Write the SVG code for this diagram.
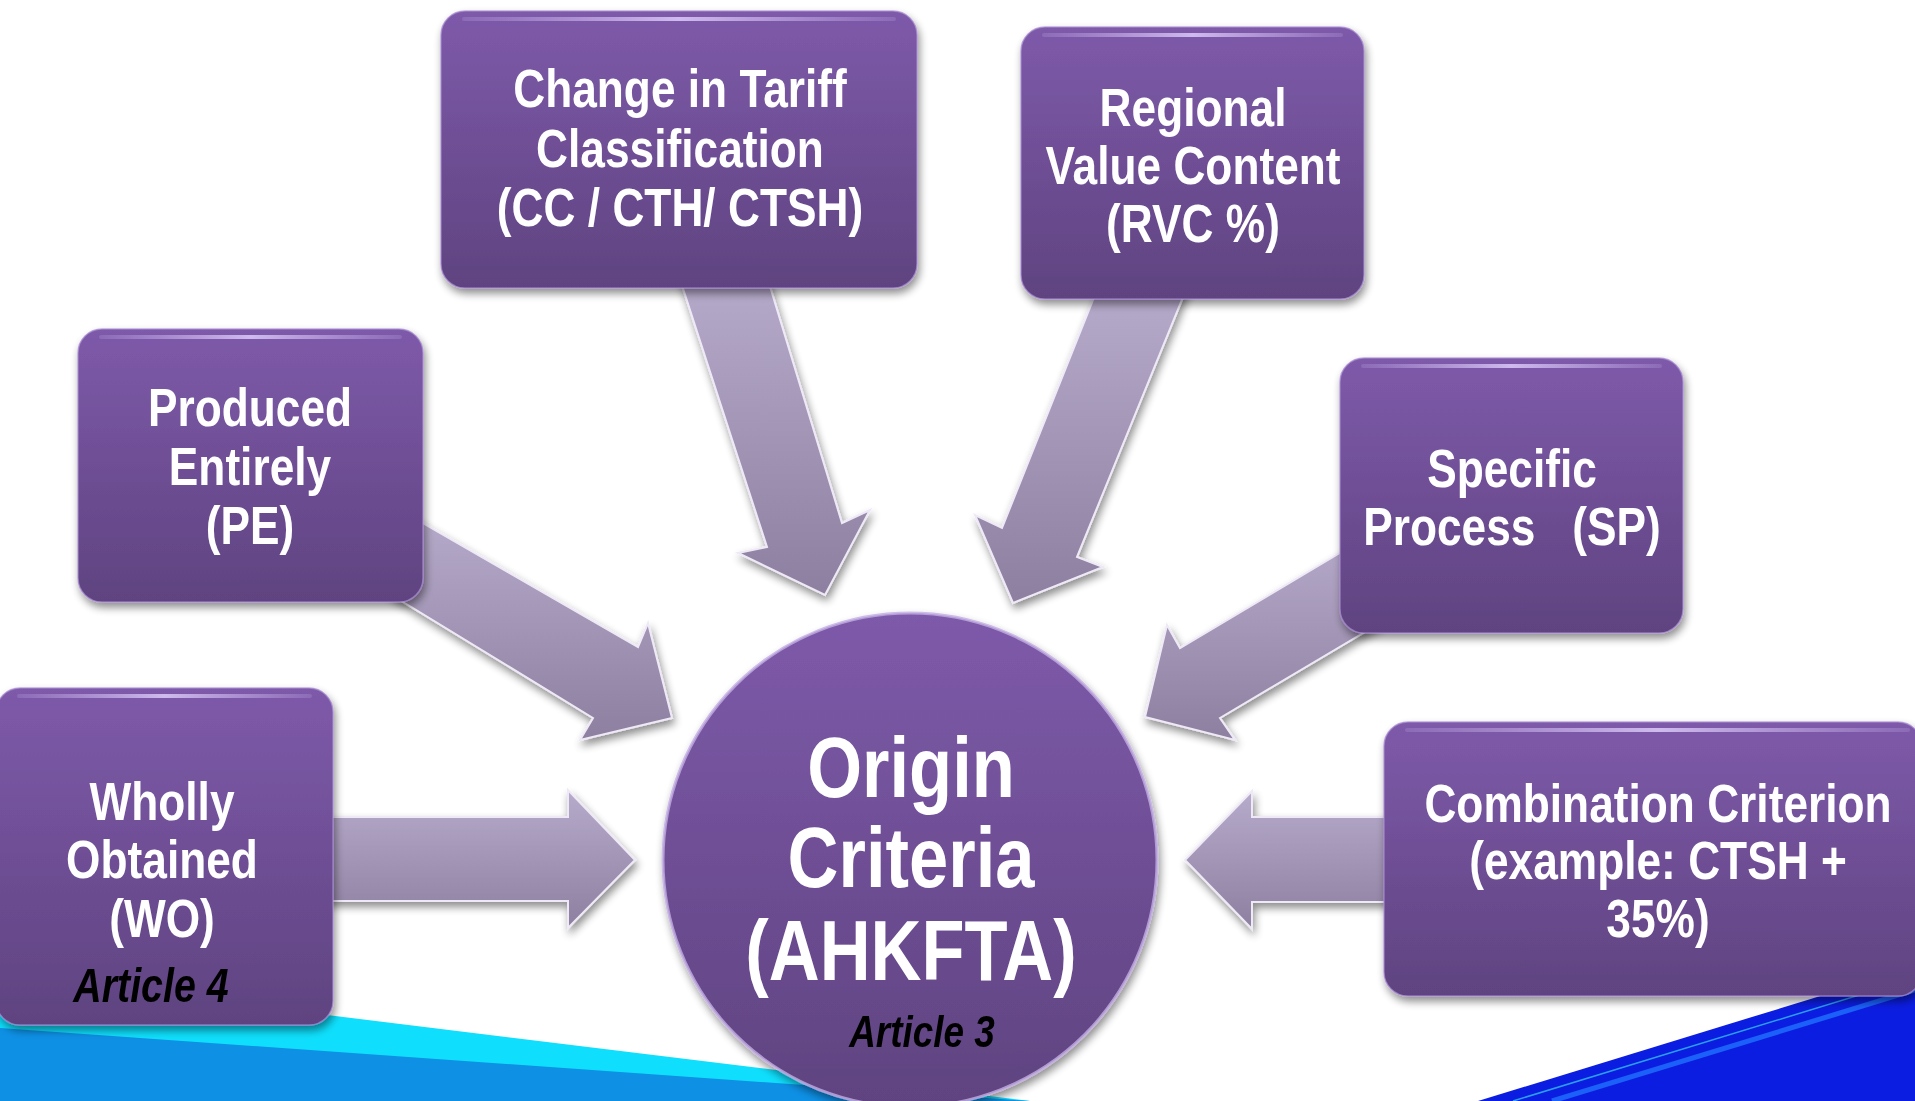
<svg xmlns="http://www.w3.org/2000/svg" width="1915" height="1101" viewBox="0 0 1915 1101">
<defs>
<linearGradient id="gBox" x1="0" y1="0" x2="0" y2="1">
<stop offset="0" stop-color="#7e5aaa"/>
<stop offset="1" stop-color="#5f4380"/>
</linearGradient>
<linearGradient id="gArrow" x1="0" y1="0" x2="0" y2="1">
<stop offset="0" stop-color="#b7abcb"/>
<stop offset="1" stop-color="#8d7f9f"/>
</linearGradient>
<linearGradient id="gHi" x1="0" y1="0" x2="1" y2="0">
<stop offset="0" stop-color="#c9b2ee" stop-opacity="0.2"/>
<stop offset="0.5" stop-color="#d8c6f5" stop-opacity="0.9"/>
<stop offset="1" stop-color="#c9b2ee" stop-opacity="0.2"/>
</linearGradient>
<filter id="shadow" x="-10%" y="-10%" width="125%" height="130%">
<feGaussianBlur in="SourceAlpha" stdDeviation="4"/>
<feOffset dx="2" dy="5" result="b"/>
<feComponentTransfer><feFuncA type="linear" slope="0.45"/></feComponentTransfer>
<feMerge><feMergeNode/><feMergeNode in="SourceGraphic"/></feMerge>
</filter>
</defs>
<style>
.box{fill:url(#gBox);stroke:#a98bd3;stroke-width:1.5;stroke-opacity:0.7}
.hi{fill:url(#gHi)}
.arrow{fill:url(#gArrow);stroke:#efe9f7;stroke-width:2;stroke-linejoin:miter}
.lbl{font-family:"Liberation Sans",Arial,sans-serif;font-weight:bold;fill:#ffffff;text-anchor:middle;font-size:54px;white-space:pre}
.big{font-size:86px}
.art{font-family:"Liberation Sans",Arial,sans-serif;font-weight:bold;font-style:italic;fill:#000000;text-anchor:middle}
</style>
<rect x="0" y="0" width="1915" height="1101" fill="#ffffff"/>
<g id="background">
<polygon points="0,975 1030,1101 0,1101" fill="#0fdffc"/>
<polygon points="0,1028 1030,1101 0,1101" fill="#0e90e5"/>
<polygon points="1478,1101 1915,967 1915,1101" fill="#0c1de2"/>
<line x1="1513" y1="1101" x2="1915" y2="978" stroke="#2aa0f0" stroke-width="1.5"/>
<line x1="1552" y1="1101" x2="1915" y2="990" stroke="#1b60f8" stroke-width="5"/>
</g>
<g id="connectors" filter="url(#shadow)">
<polygon class="arrow" points="320,817 568,817 568,790 635,860 568,928 568,901 320,901"/>
<polygon class="arrow" points="400,510 638,647 648,623 672,718 580,740 593,718 390,594"/>
<polygon class="arrow" points="677,270 765,270 842,523 870,510 825,595 738,553 767,547"/>
<polygon class="arrow" points="1099,285 1188,285 1077,557 1103,567 1013,603 975,515 1002,528"/>
<polygon class="arrow" points="1380,529 1180,648 1167,625 1145,717 1235,740 1220,718 1380,623"/>
<polygon class="arrow" points="1400,817 1252,817 1252,791 1185,860 1252,929 1252,902 1400,902"/>
</g>
<g id="node-ctc" filter="url(#shadow)">
<rect class="box" x="441" y="11" width="476" height="277" rx="24"/>
<rect class="hi" x="462" y="17" width="434" height="4" rx="2"/>
<text class="lbl" transform="translate(680 107) scale(0.82 1)">Change in Tariff</text>
<text class="lbl" transform="translate(680 167) scale(0.82 1)">Classification</text>
<text class="lbl" transform="translate(680 226) scale(0.82 1)">(CC / CTH/ CTSH)</text>
</g>
<g id="node-rvc" filter="url(#shadow)">
<rect class="box" x="1021" y="27" width="343" height="272" rx="24"/>
<rect class="hi" x="1042" y="33" width="301" height="4" rx="2"/>
<text class="lbl" transform="translate(1193 126) scale(0.82 1)">Regional</text>
<text class="lbl" transform="translate(1193 184) scale(0.82 1)">Value Content</text>
<text class="lbl" transform="translate(1193 242) scale(0.82 1)">(RVC %)</text>
</g>
<g id="node-pe" filter="url(#shadow)">
<rect class="box" x="78" y="329" width="345" height="273" rx="24"/>
<rect class="hi" x="99" y="335" width="303" height="4" rx="2"/>
<text class="lbl" transform="translate(250 426) scale(0.82 1)">Produced</text>
<text class="lbl" transform="translate(250 485) scale(0.82 1)">Entirely</text>
<text class="lbl" transform="translate(250 544) scale(0.82 1)">(PE)</text>
</g>
<g id="node-sp" filter="url(#shadow)">
<rect class="box" x="1340" y="358" width="343" height="275" rx="24"/>
<rect class="hi" x="1361" y="364" width="301" height="4" rx="2"/>
<text class="lbl" transform="translate(1512 487) scale(0.82 1)">Specific</text>
<text class="lbl" transform="translate(1512 545) scale(0.82 1)">Process   (SP)</text>
</g>
<g id="node-wo" filter="url(#shadow)">
<rect class="box" x="-4" y="688" width="337" height="337" rx="24"/>
<rect class="hi" x="17" y="694" width="295" height="4" rx="2"/>
<text class="lbl" transform="translate(162 820) scale(0.82 1)">Wholly</text>
<text class="lbl" transform="translate(162 878) scale(0.82 1)">Obtained</text>
<text class="lbl" transform="translate(162 937) scale(0.82 1)">(WO)</text>
<text class="art" font-size="48" transform="translate(151 1002) scale(0.82 1)">Article 4</text>
</g>
<g id="node-comb" filter="url(#shadow)">
<rect class="box" x="1384" y="722" width="538" height="274" rx="24"/>
<rect class="hi" x="1405" y="728" width="505" height="4" rx="2"/>
<text class="lbl" transform="translate(1658 822) scale(0.82 1)">Combination Criterion</text>
<text class="lbl" transform="translate(1658 879) scale(0.82 1)">(example: CTSH +</text>
<text class="lbl" transform="translate(1658 937) scale(0.82 1)">35%)</text>
</g>
<g id="node-origin" filter="url(#shadow)">
<circle cx="910" cy="860" r="247" fill="url(#gBox)" stroke="#c3aee3" stroke-width="3" stroke-opacity="0.8"/>
<text class="lbl big" transform="translate(911 797) scale(0.82 1)">Origin</text>
<text class="lbl big" transform="translate(911 887) scale(0.82 1)">Criteria</text>
<text class="lbl big" transform="translate(911 980) scale(0.82 1)">(AHKFTA)</text>
<text class="art" font-size="45" transform="translate(922 1047) scale(0.82 1)">Article 3</text>
</g>
</svg>
